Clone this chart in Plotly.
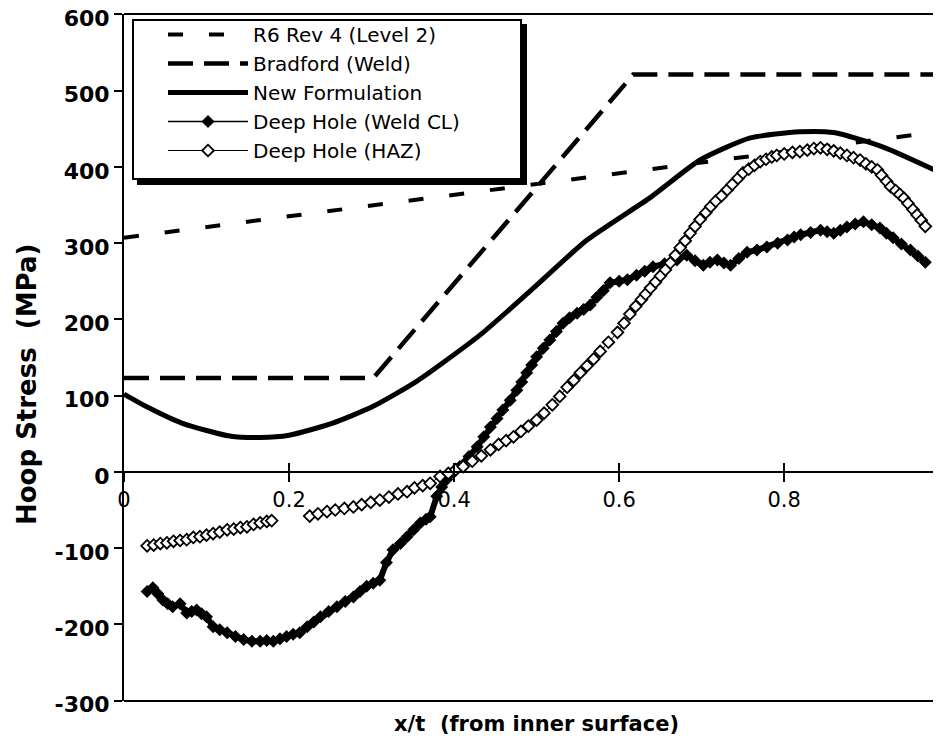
import plotly.graph_objects as go

# x/t positions and hoop stress values (MPa)
r6_x = [0.0, 1.0]
r6_y = [307, 448]

bradford_x = [0.0, 0.302, 0.617, 1.0]
bradford_y = [123, 123, 521, 521]

newform_x = [0.0, 0.03, 0.07, 0.128, 0.165, 0.2, 0.253, 0.302, 0.355, 0.432, 0.492,
             0.561, 0.638, 0.698, 0.759, 0.819, 0.86, 0.92, 0.99]
newform_y = [102, 84, 64, 47, 45, 48, 64, 86, 119, 180, 237, 304, 360, 409, 438, 446,
             445, 426, 392]

weld_x = [0.028, 0.035, 0.041, 0.047, 0.053, 0.059, 0.068, 0.076, 0.082, 0.088, 0.094,
          0.100, 0.108, 0.116, 0.125, 0.135, 0.145, 0.155, 0.165, 0.173, 0.181, 0.189,
          0.197, 0.205, 0.213, 0.222, 0.230, 0.238, 0.248, 0.258, 0.268, 0.278, 0.286,
          0.294, 0.302, 0.310, 0.318, 0.326, 0.335, 0.343, 0.351, 0.359, 0.366, 0.371,
          0.379, 0.385, 0.391, 0.399, 0.407, 0.418, 0.428, 0.436, 0.444, 0.452, 0.459,
          0.468, 0.476, 0.482, 0.488, 0.494, 0.500, 0.508, 0.516, 0.524, 0.532, 0.540,
          0.549, 0.557, 0.565, 0.573, 0.581, 0.589, 0.600, 0.610, 0.621, 0.631, 0.641,
          0.655, 0.670, 0.682, 0.692, 0.702, 0.710, 0.719, 0.727, 0.735, 0.745, 0.755,
          0.767, 0.779, 0.792, 0.804, 0.812, 0.820, 0.832, 0.844, 0.852, 0.860, 0.868,
          0.876, 0.886, 0.896, 0.906, 0.916, 0.924, 0.932, 0.942, 0.953, 0.962, 0.971]
weld_y = [-157, -152, -160, -168, -173, -177, -173, -185, -183, -181, -186,
          -190, -203, -207, -211, -216, -220, -222, -222, -221, -222, -219,
          -216, -213, -211, -203, -197, -190, -183, -177, -170, -164, -157,
          -150, -146, -142, -119, -102, -94, -85, -76, -67, -62, -59,
          -32, -20, -10, -1, 7, 20, 33, 46, 59, 70, 81,
          94, 107, 118, 130, 140, 151, 162, 173, 184, 195, 202,
          208, 213, 219, 229, 238, 248, 250, 252, 258, 263, 269,
          273, 278, 284, 277, 271, 275, 278, 274, 271, 280, 288,
          291, 295, 300, 304, 308, 311, 314, 317, 315, 313, 317,
          321, 325, 328, 324, 320, 313, 307, 299, 291, 283, 275]

haz_x = [0.028, 0.036, 0.044, 0.052, 0.060, 0.068, 0.076, 0.084, 0.092, 0.100, 0.108,
         0.116, 0.125, 0.133, 0.141, 0.149, 0.157, 0.165, 0.173, 0.179, None,
         0.225, 0.235, 0.246, 0.256, 0.267, 0.278, 0.288, 0.299, 0.310, 0.321, 0.332,
         0.343, 0.352, 0.362, 0.371, 0.383, 0.393, 0.402, 0.411, 0.422, 0.433, 0.444,
         0.454, 0.463, 0.472, 0.481, 0.490, 0.500, 0.509, 0.519, 0.528, 0.537, 0.545,
         0.553, 0.561, 0.569, 0.577, 0.587, 0.598, 0.606, 0.613, 0.620, 0.627, 0.632,
         0.638, 0.644, 0.650, 0.656, 0.662, 0.668, 0.674, 0.680, 0.686, 0.692, 0.698,
         0.705, 0.711, 0.717, 0.724, 0.731, 0.737, 0.744, 0.750, 0.757, 0.764, 0.771,
         0.778, 0.785, 0.791, 0.800, 0.810, 0.819, 0.828, 0.836, 0.844, 0.852, 0.860,
         0.868, 0.876, 0.884, 0.892, 0.899, 0.906, 0.913, 0.918, 0.924, 0.929, 0.935,
         0.940, 0.945, 0.950, 0.956, 0.961, 0.966, 0.971]
haz_y = [-97, -96, -94, -93, -91, -90, -89, -86, -85, -83, -81,
         -79, -76, -75, -73, -72, -69, -67, -65, -64, None,
         -58, -55, -52, -50, -48, -46, -43, -40, -37, -33, -29,
         -26, -21, -18, -15, -6, -2, 3, 7, 14, 21, 29,
         36, 41, 46, 53, 60, 68, 77, 88, 99, 111, 120,
         130, 139, 148, 158, 170, 183, 195, 207, 217, 226, 233,
         241, 249, 257, 265, 274, 284, 294, 303, 313, 322, 331,
         340, 348, 355, 362, 370, 377, 385, 392, 397, 402, 407,
         410, 413, 415, 417, 419, 420, 422, 424, 425, 423, 421,
         418, 415, 412, 409, 404, 400, 396, 389, 381, 374, 369,
         364, 359, 352, 344, 337, 330, 322]

x_ticks = [0, 0.2, 0.4, 0.6, 0.8]
x_tick_text = ["0", "0.2", "0.4", "0.6", "0.8"]
y_ticks = [-300, -200, -100, 0, 100, 200, 300, 400, 500, 600]
y_tick_text = ["-300", "-200", "-100", "0", "100", "200", "300", "400", "500", "600"]

FONT = "DejaVu Sans, Liberation Sans, Arial, sans-serif"

# the page body adds an 8px margin all round, so the figure is shrunk to fit the window
PAGE = 8
L, T, B = 124, 14, 45          # plot area edges in window pixels
PW, PH = 941 - L, 746 - T - B
FIG_W, FIG_H = 941 - PAGE, 746 - 2 * PAGE


def px(x):
    return (x - L) / PW


def py(y):
    return 1 - (y - T) / PH


fig = go.Figure()

fig.add_trace(go.Scatter(x=r6_x, y=r6_y, mode="lines", name="R6 Rev 4 (Level 2)",
                         line=dict(color="black", width=4, dash="15px,26px")))
fig.add_trace(go.Scatter(x=bradford_x, y=bradford_y, mode="lines", name="Bradford (Weld)",
                         line=dict(color="black", width=4.5, dash="25px,11px")))
fig.add_trace(go.Scatter(x=newform_x, y=newform_y, mode="lines", name="New Formulation",
                         line=dict(color="black", width=5, shape="spline", smoothing=0.6)))

# weld CL data drawn as a heavy band; the legend entry is a separate thin sample
fig.add_trace(go.Scatter(x=weld_x, y=weld_y, mode="lines+markers", showlegend=False,
                         legendgroup="weld",
                         line=dict(color="black", width=6),
                         marker=dict(symbol="diamond", size=10, color="black")))
fig.add_trace(go.Scatter(x=[None], y=[None], mode="lines+markers", name="Deep Hole (Weld CL)",
                         legendgroup="weld",
                         line=dict(color="black", width=1.5),
                         marker=dict(symbol="diamond", size=10, color="black")))

fig.add_trace(go.Scatter(x=haz_x, y=haz_y, mode="lines+markers", name="Deep Hole (HAZ)",
                         connectgaps=False,
                         line=dict(color="black", width=1),
                         marker=dict(symbol="diamond", size=9, color="white",
                                     line=dict(color="black", width=1.8))))

# dummy trace so the second x axis (crossing tick marks) is drawn
fig.add_trace(go.Scatter(x=[None], y=[None], xaxis="x2", showlegend=False))

fig.update_layout(
    width=FIG_W, height=FIG_H,
    margin=dict(l=L - PAGE, r=0, t=T - PAGE, b=FIG_H - (T - PAGE) - PH, autoexpand=False),
    paper_bgcolor="white", plot_bgcolor="white",
    font=dict(family=FONT, color="black", size=20),
    showlegend=True,
    legend=dict(x=px(163), y=py(15), xanchor="left", yanchor="top",
                bgcolor="rgba(0,0,0,0)", borderwidth=0,
                font=dict(family=FONT, size=20, color="black"),
                itemwidth=80, tracegroupgap=0),
    xaxis=dict(range=[0, 0.99], anchor="free", position=1/3, automargin=False,
               tickvals=x_ticks, ticktext=x_tick_text,
               ticks="outside", ticklen=9, tickwidth=2, tickcolor="black",
               showline=True, linewidth=2, linecolor="black",
               showgrid=False, zeroline=False,
               tickfont=dict(family=FONT, size=21, color="black")),
    xaxis2=dict(range=[0, 0.99], overlaying="x", anchor="free", position=1/3,
                automargin=False,
                tickvals=x_ticks, ticks="inside", ticklen=9, tickwidth=2,
                tickcolor="black", showticklabels=False, showline=False,
                showgrid=False, zeroline=False),
    yaxis=dict(range=[-300.5, 600.5], tickvals=y_ticks, ticktext=y_tick_text,
               automargin=False, ticklabeloverflow="allow", ticklabelshift=4,
               ticks="outside", ticklen=8, tickwidth=2, tickcolor="black",
               showline=True, linewidth=2, linecolor="black",
               showgrid=False, zeroline=False,
               tickfont=dict(family="DejaVu Sans, Arial, sans-serif", size=22,
                             color="black", weight="bold")),
)

# frame lines on top and bottom of the plotting area
fig.add_shape(type="line", xref="paper", yref="paper", x0=0, x1=1, y0=1, y1=1,
              line=dict(color="black", width=2))
fig.add_shape(type="line", xref="paper", yref="paper", x0=0, x1=1, y0=0, y1=0,
              line=dict(color="black", width=2))

# legend box with its heavy drop shadow
fig.add_shape(type="rect", xref="paper", yref="paper",
              x0=px(137), x1=px(527), y0=py(185), y1=py(24),
              fillcolor="black", line=dict(width=0), layer="above")
fig.add_shape(type="rect", xref="paper", yref="paper",
              x0=px(133), x1=px(521), y0=py(179), y1=py(20),
              fillcolor="white", line=dict(color="black", width=2), layer="above")

fig.add_annotation(text="<b>Hoop Stress  (MPa)</b>", xref="paper", yref="paper",
                   x=px(27), y=py(385), xanchor="center", yanchor="middle",
                   textangle=-90, showarrow=False,
                   font=dict(family=FONT, size=26, color="black"))
fig.add_annotation(text="<b>x/t  (from inner surface)</b>", xref="paper", yref="paper",
                   x=px(536), y=py(724), xanchor="center", yanchor="middle",
                   showarrow=False,
                   font=dict(family=FONT, size=21, color="black"))

fig.write_html("out.html")
